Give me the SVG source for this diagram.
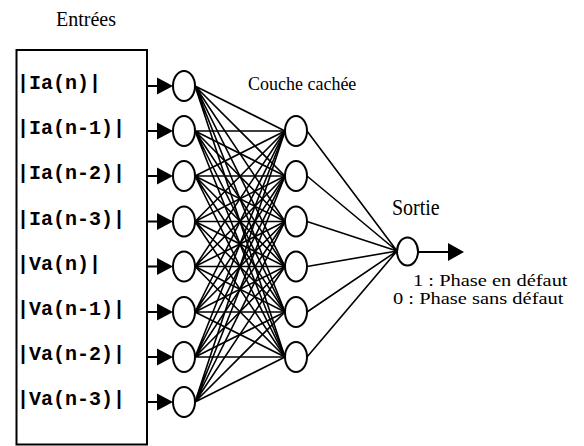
<svg xmlns="http://www.w3.org/2000/svg" width="584" height="446" viewBox="0 0 584 446">
  <defs>
    <style>
      .bg { fill: #ffffff; }
      .frame { fill: none; stroke: #000; stroke-width: 2; }
      .neuron { fill: #fff; stroke: #000; stroke-width: 2; }
      .link { fill: none; stroke: #000; stroke-width: 1.6; }
      .feed { fill: none; stroke: #000; stroke-width: 2; }
      .head { fill: #000; stroke: none; }
      .mono { font-family: "Liberation Mono", "Courier New", monospace; font-weight: bold; font-size: 20px; fill: #000; }
      .serif { font-family: "Liberation Serif", "Times New Roman", serif; fill: #000; }
    </style>
  </defs>

  <rect class="bg" x="0" y="0" width="584" height="446"/>

  <!-- titles -->
  <text class="serif" font-size="20" transform="translate(56,26) scale(1,1.05)">Entrées</text>
  <text class="serif" font-size="18" transform="translate(248,90) scale(1,1.1)">Couche cachée</text>
  <text class="serif" font-size="20" transform="translate(392,215) scale(1,1.2)">Sortie</text>
  <text class="serif" font-size="16" transform="translate(413,285.5) scale(1.28,1)">1 : Phase en défaut</text>
  <text class="serif" font-size="16" transform="translate(393,303.5) scale(1.28,1)">0 : Phase sans défaut</text>

  <!-- input frame with signal names -->
  <g id="input-box">
    <rect class="frame" x="16.5" y="50" width="130.5" height="394.5"/>
    <text class="mono" x="17" y="89">|Ia(n)|</text>
    <text class="mono" x="17" y="134">|Ia(n-1)|</text>
    <text class="mono" x="17" y="179">|Ia(n-2)|</text>
    <text class="mono" x="17" y="224.5">|Ia(n-3)|</text>
    <text class="mono" x="17" y="269.5">|Va(n)|</text>
    <text class="mono" x="17" y="315">|Va(n-1)|</text>
    <text class="mono" x="17" y="360">|Va(n-2)|</text>
    <text class="mono" x="17" y="405">|Va(n-3)|</text>
  </g>

  <!-- connectors -->
  <g id="connectors">
    <!-- feed arrows from the frame into the input layer -->
    <g id="feeds">
      <path class="feed" d="M147 86H160M147 131H160M147 176H160M147 221.5H160M147 266.5H160M147 312H160M147 357H160M147 402H160"/>
      <polygon class="head" points="157,77.5 173,86 157,94.5"/>
      <polygon class="head" points="157,122.5 173,131 157,139.5"/>
      <polygon class="head" points="157,167.5 173,176 157,184.5"/>
      <polygon class="head" points="157,213 173,221.5 157,230"/>
      <polygon class="head" points="157,258 173,266.5 157,275"/>
      <polygon class="head" points="157,303.5 173,312 157,320.5"/>
      <polygon class="head" points="157,348.5 173,357 157,365.5"/>
      <polygon class="head" points="157,393.5 173,402 157,410.5"/>
    </g>
    <!-- input layer to hidden layer, fully connected -->
    <g id="input-hidden">
      <path class="link" d="M195 86L285 131M195 86L285 176M195 86L285 221.5M195 86L285 266.5M195 86L285 312M195 86L285 357"/>
      <path class="link" d="M195 131L285 131M195 131L285 176M195 131L285 221.5M195 131L285 266.5M195 131L285 312M195 131L285 357"/>
      <path class="link" d="M195 176L285 131M195 176L285 176M195 176L285 221.5M195 176L285 266.5M195 176L285 312M195 176L285 357"/>
      <path class="link" d="M195 221.5L285 131M195 221.5L285 176M195 221.5L285 221.5M195 221.5L285 266.5M195 221.5L285 312M195 221.5L285 357"/>
      <path class="link" d="M195 266.5L285 131M195 266.5L285 176M195 266.5L285 221.5M195 266.5L285 266.5M195 266.5L285 312M195 266.5L285 357"/>
      <path class="link" d="M195 312L285 131M195 312L285 176M195 312L285 221.5M195 312L285 266.5M195 312L285 312M195 312L285 357"/>
      <path class="link" d="M195 357L285 131M195 357L285 176M195 357L285 221.5M195 357L285 266.5M195 357L285 312M195 357L285 357"/>
      <path class="link" d="M195 402L285 131M195 402L285 176M195 402L285 221.5M195 402L285 266.5M195 402L285 312M195 402L285 357"/>
    </g>
    <!-- hidden layer to output -->
    <g id="hidden-output">
      <path class="link" d="M307 131L397 251M307 176L397 251M307 221.5L397 251M307 266.5L397 251M307 312L397 251M307 357L397 251"/>
    </g>
    <!-- output arrow -->
    <g id="result">
      <path class="feed" d="M418 252H451"/>
      <polygon class="head" points="448,243 464,252 448,261"/>
    </g>
  </g>

  <!-- input layer -->
  <g id="in-0"><ellipse class="neuron" cx="184" cy="86" rx="11" ry="15"/></g>
  <g id="in-1"><ellipse class="neuron" cx="184" cy="131" rx="11" ry="15"/></g>
  <g id="in-2"><ellipse class="neuron" cx="184" cy="176" rx="11" ry="15"/></g>
  <g id="in-3"><ellipse class="neuron" cx="184" cy="221.5" rx="11" ry="15"/></g>
  <g id="in-4"><ellipse class="neuron" cx="184" cy="266.5" rx="11" ry="15"/></g>
  <g id="in-5"><ellipse class="neuron" cx="184" cy="312" rx="11" ry="15"/></g>
  <g id="in-6"><ellipse class="neuron" cx="184" cy="357" rx="11" ry="15"/></g>
  <g id="in-7"><ellipse class="neuron" cx="184" cy="402" rx="11" ry="15"/></g>

  <!-- hidden layer -->
  <g id="hid-0"><ellipse class="neuron" cx="296" cy="131" rx="11" ry="15"/></g>
  <g id="hid-1"><ellipse class="neuron" cx="296" cy="176" rx="11" ry="15"/></g>
  <g id="hid-2"><ellipse class="neuron" cx="296" cy="221.5" rx="11" ry="15"/></g>
  <g id="hid-3"><ellipse class="neuron" cx="296" cy="266.5" rx="11" ry="15"/></g>
  <g id="hid-4"><ellipse class="neuron" cx="296" cy="312" rx="11" ry="15"/></g>
  <g id="hid-5"><ellipse class="neuron" cx="296" cy="357" rx="11" ry="15"/></g>

  <!-- output neuron -->
  <g id="out"><ellipse class="neuron" cx="407.5" cy="251.5" rx="10.5" ry="14"/></g>
</svg>
